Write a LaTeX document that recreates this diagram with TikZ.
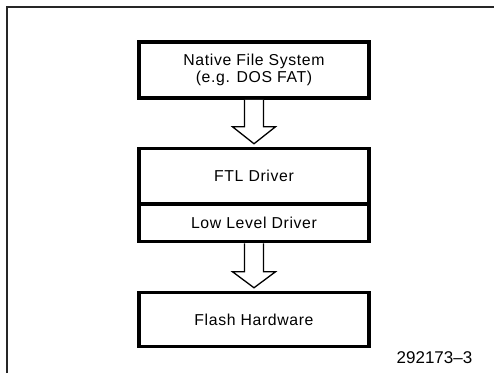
\documentclass[tikz,border=0pt]{standalone}
\usepackage{fontspec}
\setmainfont{Liberation Sans}
\newfontfamily\labelfont[LetterSpace=4]{Liberation Sans}
\usetikzlibrary{calc}
\begin{document}
\begin{tikzpicture}[x=1pt,y=-1pt,
  layerbox/.style={draw=black,line width=3.5pt,rectangle,minimum width=230pt,
    align=center,inner sep=0pt,
    font=\labelfont\fontsize{15.8}{17}\selectfont},
  hollow/.style={draw=black,line width=1.3pt,line join=miter,fill=white},
  frameline/.style={draw=black!85,line width=2pt}]
  \useasboundingbox (0,0) rectangle (494,373);
  % outer frame (top and left edges only)
  \draw[frameline] (7,373) -- (7,7) -- (494,7);
  % layer stack
  \node[layerbox,minimum height=56pt] (nfs) at (254,70)
    {Native File System\\(e.g. DOS FAT)};
  \node[layerbox,minimum height=55.5pt] (ftl) at (254,176.25) {FTL Driver};
  \node[layerbox,minimum height=37.5pt] (lld) at (254,222.75) {Low Level Driver};
  \node[layerbox,minimum height=54pt] (fh) at (254,319.5) {Flash Hardware};
  % hollow block arrows between layers
  \draw[hollow] ($(nfs.south)+(-9.5,0)$) -- ($(ftl.north)+(-9.5,-20)$)
    -- ($(ftl.north)+(-21.5,-20)$) -- ($(ftl.north)+(0,-3)$)
    -- ($(ftl.north)+(21.5,-20)$) -- ($(ftl.north)+(9.5,-20)$)
    -- ($(nfs.south)+(9.5,0)$);
  \draw[hollow] ($(lld.south)+(-9.5,0)$) -- ($(fh.north)+(-9.5,-19)$)
    -- ($(fh.north)+(-21.5,-19)$) -- ($(fh.north)+(0,-3)$)
    -- ($(fh.north)+(21.5,-19)$) -- ($(fh.north)+(9.5,-19)$)
    -- ($(lld.south)+(9.5,0)$);
  % figure number
  \node (fig) at (434.5,358) {\fontsize{17}{17}\selectfont 292173--3};
\end{tikzpicture}
\end{document}
